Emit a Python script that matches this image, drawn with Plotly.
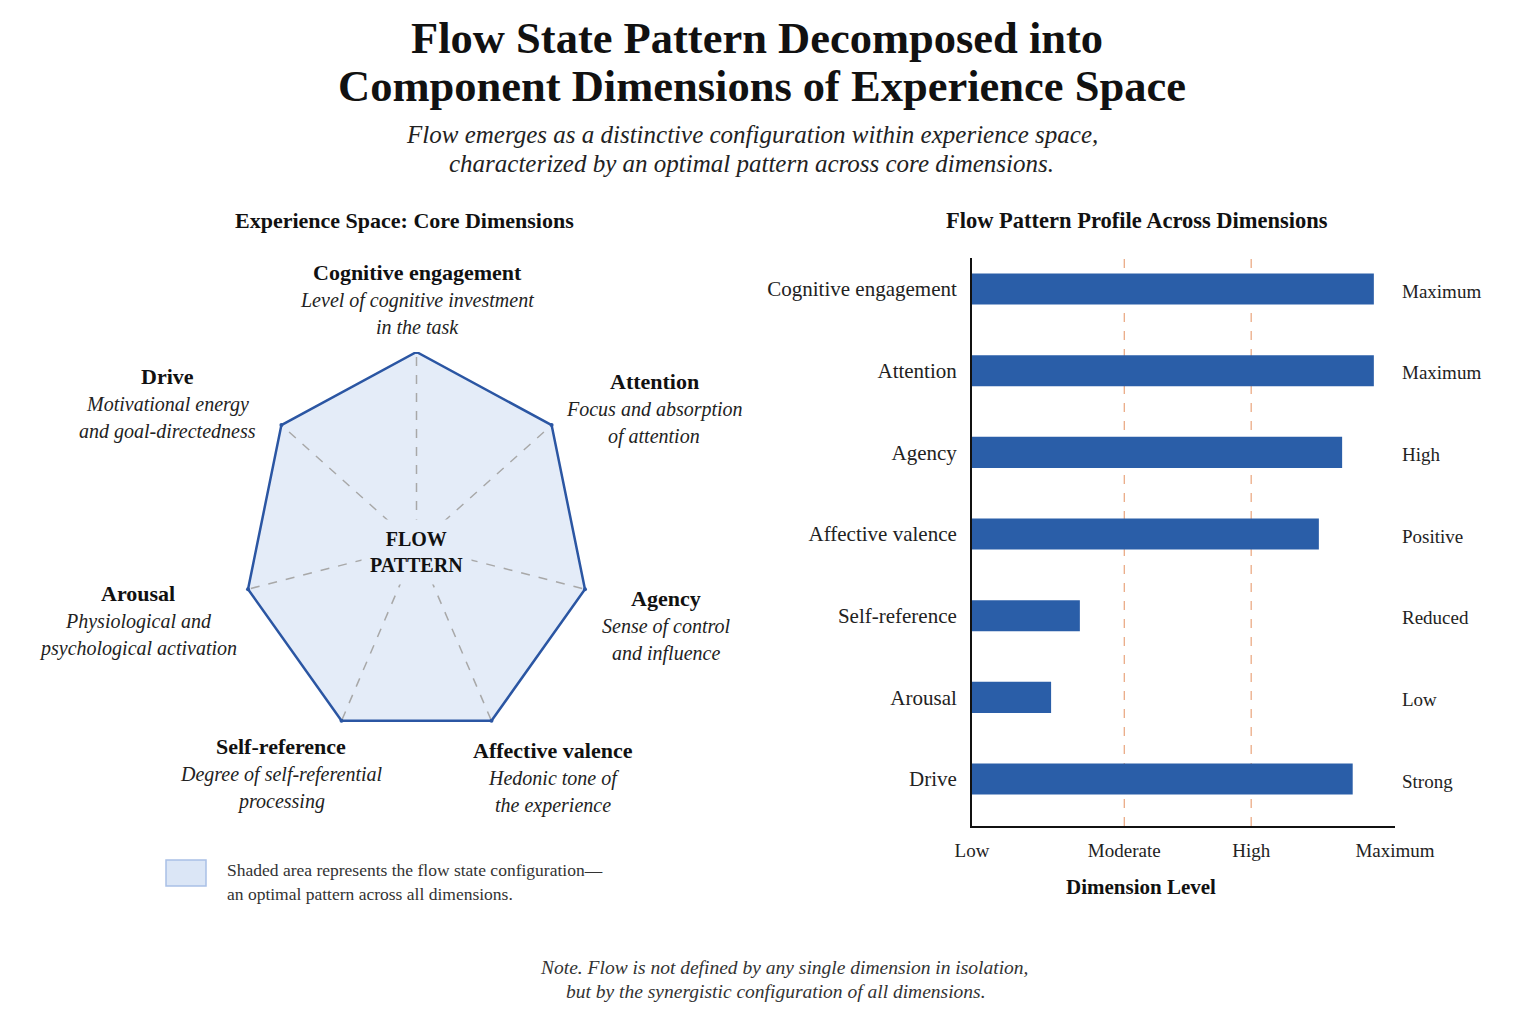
import numpy as np
import plotly.graph_objects as go

# ---------------- data ----------------
dimensions = ["Cognitive engagement", "Attention", "Agency", "Affective valence",
              "Self-reference", "Arousal", "Drive"]
descriptions = [
    ["Level of cognitive investment", "in the task"],
    ["Focus and absorption", "of attention"],
    ["Sense of control", "and influence"],
    ["Hedonic tone of", "the experience"],
    ["Degree of self-referential", "processing"],
    ["Physiological and", "psychological activation"],
    ["Motivational energy", "and goal-directedness"],
]
radar_values = [1, 1, 1, 1, 1, 1, 1]          # flow configuration spans every dimension
bar_values = [9.5, 9.5, 8.75, 8.2, 2.55, 1.87, 9.0]
level_labels = ["Maximum", "Maximum", "High", "Positive", "Reduced", "Low", "Strong"]
tick_vals = [0, 3.6, 6.6, 10]
tick_text = ["Low", "Moderate", "High", "Maximum"]

# ---------------- style ----------------
W, H = 1536, 1024
SERIF = "Liberation Serif, Times New Roman, serif"
LINE = "#2b56a3"
FILL = "#e4ecf8"
BAR = "#2a5ea8"
TXT = "#111111"


def px(x):
    return x / W


def py(y):
    return 1 - y / H


fig = go.Figure()

# ---------------- radar (left) ----------------
n = len(dimensions)
angles = np.pi / 2 - 2 * np.pi * np.arange(n) / n
rv = np.array(radar_values, dtype=float)
xs = rv * np.cos(angles)
ys = rv * np.sin(angles)

fig.add_trace(go.Scatter(
    x=np.append(xs, xs[0]), y=np.append(ys, ys[0]),
    mode="lines", fill="toself", fillcolor=FILL,
    line=dict(color=LINE, width=2.5), xaxis="x2", yaxis="y2",
    hoverinfo="skip", showlegend=False))

for xv, yv in zip(xs, ys):
    fig.add_trace(go.Scatter(
        x=[0, xv], y=[0, yv], mode="lines",
        line=dict(color="#a8a8a8", width=1.5, dash="dash"),
        xaxis="x2", yaxis="y2", hoverinfo="skip", showlegend=False))

fig.add_trace(go.Scatter(
    x=xs, y=ys, mode="markers", marker=dict(color=LINE, size=4),
    xaxis="x2", yaxis="y2", hoverinfo="skip", showlegend=False))

# ---------------- bars (right) ----------------
fig.add_trace(go.Bar(
    x=bar_values, y=dimensions, orientation="h",
    marker=dict(color=BAR, line=dict(width=0)), width=0.38,
    xaxis="x", yaxis="y", hoverinfo="skip", showlegend=False))

annotations = []

# titles
annotations += [
    dict(x=px(757), y=py(38), text="<b>Flow State Pattern Decomposed into</b>",
         font=dict(size=44.5, color=TXT)),
    dict(x=px(762), y=py(86), text="<b>Component Dimensions of Experience Space</b>",
         font=dict(size=44.5, color=TXT)),
    dict(x=px(752), y=py(134),
         text="<i>Flow emerges as a distinctive configuration within experience space,</i>",
         font=dict(size=25, color="#222")),
    dict(x=px(751), y=py(163),
         text="<i>characterized by an optimal pattern across core dimensions.</i>",
         font=dict(size=25, color="#222")),
    dict(x=px(404), y=py(220), text="<b>Experience Space: Core Dimensions</b>",
         font=dict(size=22, color=TXT)),
    dict(x=px(1137), y=py(220), text="<b>Flow Pattern Profile Across Dimensions</b>",
         font=dict(size=22.5, color=TXT)),
]

# radar labels (layout positions in px)
label_pos = [(417, 272), (654, 381), (666, 598), (553, 750), (281, 746), (138, 593), (167, 376)]
for name, desc, (lx, ly) in zip(dimensions, descriptions, label_pos):
    annotations.append(dict(x=px(lx), y=py(ly), text=f"<b>{name}</b>",
                            font=dict(size=22, color=TXT)))
    for k, line in enumerate(desc):
        annotations.append(dict(x=px(lx), y=py(ly + 28 + 27 * k), text=f"<i>{line}</i>",
                                font=dict(size=20, color="#222")))

annotations.append(dict(x=0, y=-0.03, xref="x2", yref="y2", text="<b>FLOW<br>PATTERN</b>",
                        font=dict(size=20, color=TXT), bgcolor=FILL, borderpad=8))

# legend note
annotations += [
    dict(x=px(225), y=py(870), xanchor="left",
         text="Shaded area represents the flow state configuration\u2014",
         font=dict(size=17.5, color="#333")),
    dict(x=px(225), y=py(894), xanchor="left",
         text="an optimal pattern across all dimensions.",
         font=dict(size=17.5, color="#333")),
]

# bar level labels
for name, lab in zip(dimensions, level_labels):
    annotations.append(dict(x=px(1400), y=name, xref="paper", yref="y", xanchor="left",
                            yshift=-2, text=lab, font=dict(size=19, color="#222")))

annotations.append(dict(x=px(1141), y=py(887), text="<b>Dimension Level</b>",
                        font=dict(size=21, color=TXT)))

# bottom note
annotations += [
    dict(x=px(784), y=py(967),
         text="<i>Note. Flow is not defined by any single dimension in isolation,</i>",
         font=dict(size=19.5, color="#333")),
    dict(x=px(776), y=py(991),
         text="<i>but by the synergistic configuration of all dimensions.</i>",
         font=dict(size=19.5, color="#333")),
]

for a in annotations:
    a.setdefault("xref", "paper")
    a.setdefault("yref", "paper")
    a.setdefault("showarrow", False)
    a.setdefault("xanchor", "center")
    a.setdefault("yanchor", "middle")

shapes = []
for tv in tick_vals[1:3]:
    shapes.append(dict(type="line", xref="x", yref="y domain", x0=tv, x1=tv, y0=0, y1=1,
                       line=dict(color="#e9a47c", width=1.2, dash="dash"), layer="below"))
shapes.append(dict(type="rect", xref="paper", yref="paper",
                   x0=px(166), x1=px(206), y0=py(886), y1=py(860),
                   fillcolor="#dbe6f6", line=dict(color="#a9c0e6", width=1.5)))

fig.update_layout(
    width=W, height=H,
    margin=dict(l=0, r=0, t=0, b=0, pad=0, autoexpand=False),
    paper_bgcolor="white", plot_bgcolor="rgba(0,0,0,0)",
    font=dict(family=SERIF, color=TXT),
    showlegend=False,
    annotations=annotations,
    shapes=shapes,
    xaxis=dict(domain=[px(972), px(1395)], range=[0, 10], tickvals=tick_vals,
               ticktext=tick_text, showgrid=False, zeroline=False, showline=True,
               linecolor="#111", linewidth=2, ticks="", ticklabelstandoff=6,
               automargin=False, anchor="y",
               tickfont=dict(size=19, color="#222"), fixedrange=True),
    yaxis=dict(domain=[py(826), py(258)], type="category", categoryarray=dimensions,
               range=[6.575, -0.38], showgrid=False, zeroline=False, showline=True,
               linecolor="#111", linewidth=2, ticks="", ticklabelstandoff=9,
               automargin=False, anchor="x",
               tickfont=dict(size=21, color="#222"), fixedrange=True),
    xaxis2=dict(domain=[px(243.7), px(589.3)], range=[-1, 1], visible=False,
                anchor="y2", automargin=False, fixedrange=True),
    yaxis2=dict(domain=[py(740), py(352)], range=[-1, 1], visible=False,
                anchor="x2", automargin=False, fixedrange=True),
)

fig.write_html("out.html")
